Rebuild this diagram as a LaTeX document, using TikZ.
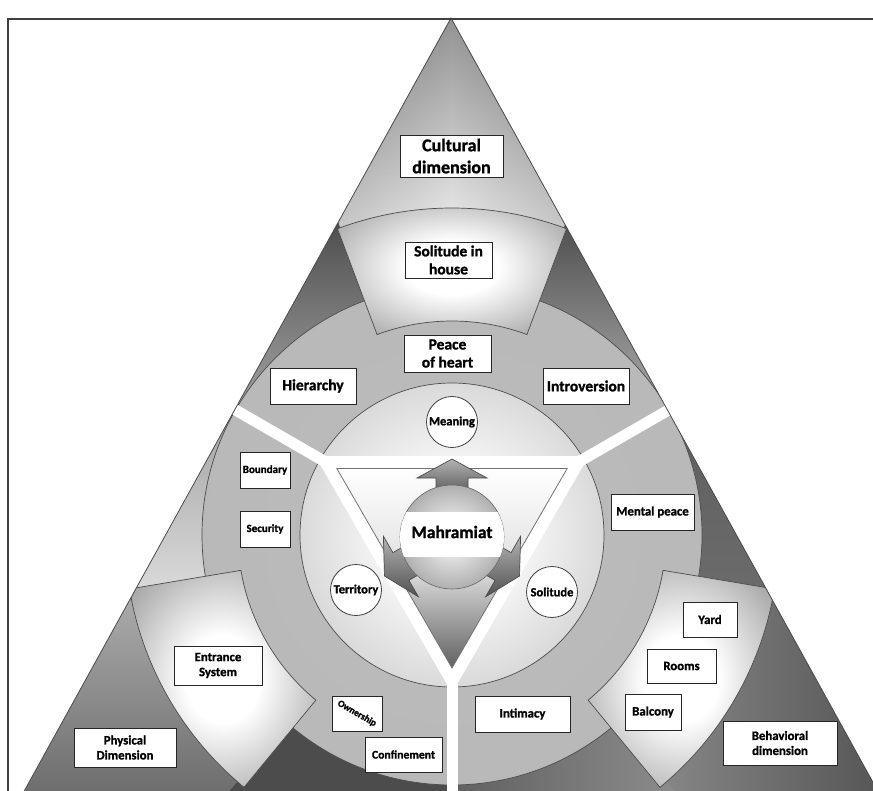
\documentclass[tikz,border=0pt]{standalone}
\usepackage{graphicx}
\usepackage{fontspec}
\setmainfont{Carlito}[BoldFeatures={FakeBold=1.2}]

% shadings used by the rings and bands
\pgfdeclareradialshading{bandshade}{\pgfpoint{0bp}{0bp}}{color(0bp)=(white); color(10bp)=(white); color(36bp)=(black!42); color(72bp)=(black!66)}
\pgfdeclareradialshading{discshade}{\pgfpoint{0bp}{0bp}}{color(0bp)=(white); color(12bp)=(white!96!black); color(34bp)=(black!22); color(50bp)=(black!60)}
\pgfdeclareradialshading{ringshade}{\pgfpoint{0bp}{0bp}}{color(0bp)=(black!26); color(30bp)=(black!28); color(50bp)=(black!42)}
\pgfdeclareradialshading{ballshade}{\pgfpoint{0bp}{0bp}}{color(0bp)=(white); color(20bp)=(black!25); color(50bp)=(black!62)}

\begin{document}
\begin{tikzpicture}[x=1pt,y=-1pt,
		box/.style 2 args={draw=black!85,fill=white,line width=.8pt,align=center,inner sep=0pt,minimum width=#1,minimum height=#2},
		fbig/.style={font=\bfseries\fontsize{18}{22}\selectfont},
		fmid/.style={font=\bfseries\fontsize{15.5}{18}\selectfont},
		fsml/.style={font=\bfseries\fontsize{12.8}{15}\selectfont},
		ftny/.style={font=\bfseries\fontsize{11}{13}\selectfont},
		ringlbl/.style={circle,draw=black!75,fill=white,line width=.8pt,inner sep=0pt,minimum size=51pt,font=\bfseries\fontsize{12.5}{14}\selectfont},
		rim/.style={draw=black!70,line width=.7pt}]
	\useasboundingbox (0,0) rectangle (873,791);
	\coordinate (c) at (452,535);

	\begin{scope}
		\clip (451,18) -- (22,795) -- (880,795) -- cycle;
		% corners
		\shade[top color=black!65,bottom color=black!8] (451,18) -- (320,245) -- (582,245) -- cycle;
		\shade[left color=black!45,right color=black!45,middle color=white,opacity=.35] (451,18) -- (320,245) -- (582,245) -- cycle;
		\shade[top color=black!28,bottom color=black!58] (0,555) -- (175,555) -- (305,800) -- (0,800) -- cycle;
		\shade[left color=black!42,right color=black!68] (600,800) -- (730,555) -- (900,555) -- (900,800) -- cycle;

		\begin{scope}[shift={(c)}]
			% wings
			\shade[top color=black!72,bottom color=black!32] (210:200) -- (210:350) -- (250:350) -- (250:200) -- cycle;
			\shade[top color=black!72,bottom color=black!28] (290:200) -- (290:350) -- (330:350) -- (330:200) -- cycle;
			\shade[top color=black!42,bottom color=black!14] (170:200) -- (170:350) -- (210:350) -- (210:200) -- cycle;
			\shade[top color=black!64,bottom color=black!58] (-30:200) -- (-30:350) -- (10:350) -- (10:200) -- cycle;
			\fill[black!70] (90:200) -- (90:350) -- (131:350) -- (131:200) -- cycle;
			\shade[left color=black!62,right color=black!45] (49:200) -- (49:350) -- (90:350) -- (90:200) -- cycle;

			\shade[shading=ringshade,rim] (0,0) circle (250);
			\foreach \a in {270,150,30}
				\shade[shading=bandshade,rim] ({\a-20.5}:214) arc[start angle=\a-20.5,end angle=\a+20.5,radius=214]
					-- ({\a+20.5}:327) arc[start angle=\a+20.5,end angle=\a-20.5,radius=327] -- cycle;
			\shade[shading=discshade,rim] (0,0) circle (152);

			\foreach \a in {90,210,330}
				\draw[white,line width=11pt] (0,0) -- (\a:320);
			\fill[white] (90:158) -- (210:158) -- (330:158) -- cycle;
			\shade[top color=white,bottom color=black!62,middle color=white!88!black,draw=black!55,line width=.8pt]
				(90:133) -- (210:133) -- (330:133) -- cycle;

			% arrows round the ball
			\foreach \a in {270,150,30}
				\shade[shift={(0,2)},rotate=-\a,top color=black!30,bottom color=black!68,draw=black!70,line width=.7pt]
					(40,-16) -- (59,-16) -- (59,-35) -- (78,0) -- (59,35) -- (59,16) -- (40,16) -- cycle;
			\shade[shading=ballshade,draw=black!60,line width=.6pt] (0,2) circle (52);
			\begin{scope}
				\clip (0,2) circle (52);
				\fill[white] (-60,-23) rectangle (60,22);
			\end{scope}
		\end{scope}
	\end{scope}
	\draw[black!70,line width=.8pt] (451,18) -- (22,795) -- (880,795) -- cycle;

	\node[font=\bfseries\fontsize{17.5}{20}\selectfont] (mahr) at (452,532) {Mahramiat};
	\node[ringlbl] (mean) at (452,422) {Meaning};
	\node[ringlbl] (terr) at (356,590) {Territory};
	\node[ringlbl] (soli) at (552,592) {Solitude};

	\node[box={103pt}{42pt},fbig] (cult) at (451.5,156) {Cultural\\dimension};
	\node[box={87pt}{36pt},fmid] (house) at (448.5,260) {Solitude in\\house};
	\node[box={87pt}{37pt},fmid] (peace) at (447.5,353.5) {Peace\\of heart};
	\node[box={86pt}{36pt},fmid] (hier) at (313,386) {Hierarchy};
	\node[box={86pt}{36pt},fmid] (intro) at (586,386) {Introversion};
	\node[box={50pt}{36pt},ftny] (bound) at (265,470) {Boundary};
	\node[box={50pt}{36pt},ftny] (secur) at (265,529) {Security};
	\node[box={83pt}{36pt},fsml] (mental) at (652.5,512) {Mental peace};
	\node[box={88pt}{39pt},fsml] (entr) at (218,665.5) {Entrance\\System};
	\node[box={50pt}{35pt},font=\bfseries\fontsize{9.5}{11}\selectfont] (owner) at (357,713.5) {\rotatebox{-30}{Ownership}};
	\node[box={77pt}{35pt},font=\bfseries\fontsize{11.7}{14}\selectfont] (conf) at (403.5,754.5) {Confinement};
	\node[box={102pt}{39pt},fsml] (phys) at (125,747.5) {Physical\\Dimension};
	\node[box={95pt}{36pt},fsml] (intim) at (522.5,714) {Intimacy};
	\node[box={54pt}{35pt},fsml] (yard) at (710,619.5) {Yard};
	\node[box={69pt}{34pt},fsml] (rooms) at (681.5,666) {Rooms};
	\node[box={56pt}{36pt},fsml] (balc) at (653,712) {Balcony};
	\node[box={114pt}{44pt},fsml] (behav) at (780,743) {Behavioral\\dimension};

	\draw[black!75,line width=1.2pt] (8,791) -- (8,19) -- (873,19);
\end{tikzpicture}
\end{document}
